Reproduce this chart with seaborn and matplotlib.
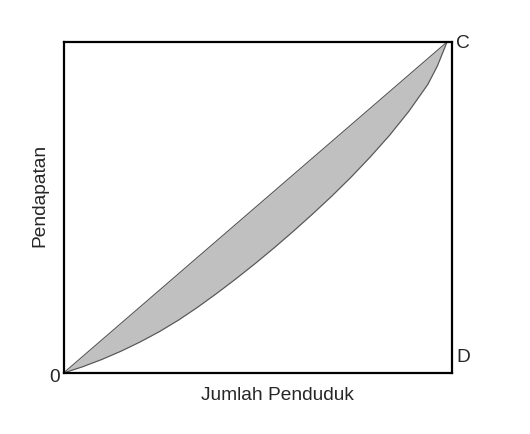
import numpy as np
import pandas as pd
import matplotlib
matplotlib.use("Agg")
import matplotlib.pyplot as plt
import seaborn as sns

# cumulative share of population (x) and income (y)
population = [0.0, 0.05, 0.1, 0.15, 0.2, 0.25, 0.3, 0.35, 0.4, 0.45, 0.5,
              0.55, 0.6, 0.65, 0.7, 0.75, 0.8, 0.85, 0.9, 0.95, 0.975, 1.0]
income = [0.0, 0.019, 0.041, 0.066, 0.094, 0.125, 0.160, 0.199, 0.241, 0.285, 0.331,
          0.379, 0.429, 0.481, 0.535, 0.592, 0.653, 0.718, 0.79, 0.872, 0.928, 1.0]
equality = population  # garis kemerataan (diagonal)

corner_labels = ["C", "D", "0"]
x_label = "Jumlah Penduduk"
y_label = "Pendapatan"

sns.set_style("white")
plt.rcParams["font.family"] = ["Liberation Sans", "DejaVu Sans"]

df = pd.DataFrame({"population": population, "income": income, "equality": equality})

fig = plt.figure(figsize=(5.30, 4.34), dpi=100)
ax = fig.add_axes([63.5 / 530, 61 / 434, 388.5 / 530, 331 / 434])

ax.fill_between(df["population"], df["income"], df["equality"],
                color="#c0c0c0", linewidth=0)
sns.lineplot(x="population", y="equality", data=df, ax=ax,
             color="#555555", linewidth=0.8, estimator=None, sort=False)
sns.lineplot(x="population", y="income", data=df, ax=ax,
             color="#555555", linewidth=0.8, estimator=None, sort=False)

ax.set_xlim(0, 388.5 / 383.5)
ax.set_ylim(0, 1)
ax.set_xticks([])
ax.set_yticks([])
ax.set_xlabel("")
ax.set_ylabel("")
for sp in ax.spines.values():
    sp.set_visible(True)
    sp.set_color("black")
    sp.set_linewidth(1.6)

fs = 13.8
fig.text(463 / 530, 1 - 43 / 434, corner_labels[0], fontsize=fs, ha="center", va="center")
fig.text(463 / 530, 1 - 358 / 434, corner_labels[1], fontsize=fs, ha="center", va="center")
fig.text(55 / 530, 1 - 377 / 434, corner_labels[2], fontsize=fs, ha="center", va="center")
fig.text(277 / 530, 1 - 396 / 434, x_label, fontsize=fs, ha="center", va="center")
fig.text(40 / 530, 1 - 195 / 434, y_label, fontsize=fs, ha="center", va="center",
         rotation=90)

fig.savefig("out.png", dpi=100)
